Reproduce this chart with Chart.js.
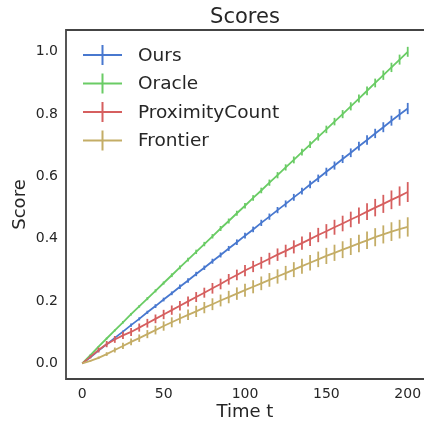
<!DOCTYPE html>
<html>
<head>
<meta charset="utf-8">
<script src="https://cdn.jsdelivr.net/npm/chart.js@4.4.0/dist/chart.umd.min.js"></script>
<style>
  html, body { margin: 0; padding: 0; background: #fff; }
  #wrap { width: 424px; height: 424px; }
</style>
</head>
<body>
<div id="wrap"><canvas id="scores"></canvas></div>
<script>
// time steps 0,5,...,200
const steps = [0, 5, 10, 15, 20, 25, 30, 35, 40, 45, 50, 55, 60, 65, 70, 75, 80, 85, 90, 95, 100,
  105, 110, 115, 120, 125, 130, 135, 140, 145, 150, 155, 160, 165, 170, 175, 180, 185, 190, 195, 200]

const ours = [0, 0.02, 0.041, 0.061, 0.082, 0.102, 0.123, 0.143, 0.164, 0.184, 0.205, 0.225, 0.246, 0.266,
  0.287, 0.307, 0.328, 0.348, 0.369, 0.389, 0.41, 0.43, 0.451, 0.471, 0.492, 0.512, 0.533, 0.553, 0.574,
  0.594, 0.615, 0.635, 0.656, 0.676, 0.697, 0.717, 0.738, 0.758, 0.779, 0.799, 0.818]
const oursErr = [0, 0.002, 0.003, 0.003, 0.004, 0.004, 0.005, 0.005, 0.005, 0.006, 0.006, 0.006, 0.007, 0.007,
  0.007, 0.007, 0.008, 0.008, 0.008, 0.009, 0.009, 0.009, 0.01, 0.01, 0.01, 0.011, 0.011, 0.011, 0.012,
  0.012, 0.013, 0.013, 0.013, 0.014, 0.014, 0.015, 0.015, 0.016, 0.016, 0.017, 0.018]

const oracle = [0, 0.027, 0.054, 0.08, 0.106, 0.132, 0.158, 0.183, 0.208, 0.233, 0.258, 0.283, 0.308, 0.333,
  0.358, 0.383, 0.408, 0.433, 0.457, 0.482, 0.506, 0.531, 0.555, 0.58, 0.604, 0.629, 0.653, 0.678, 0.702,
  0.727, 0.751, 0.776, 0.8, 0.825, 0.85, 0.875, 0.9, 0.925, 0.95, 0.975, 1.0]
const oracleErr = [0, 0.002, 0.002, 0.003, 0.003, 0.004, 0.004, 0.004, 0.005, 0.005, 0.005, 0.006, 0.006, 0.006,
  0.007, 0.007, 0.007, 0.008, 0.008, 0.008, 0.009, 0.009, 0.009, 0.01, 0.01, 0.01, 0.011, 0.011, 0.011,
  0.012, 0.012, 0.012, 0.013, 0.013, 0.013, 0.014, 0.014, 0.015, 0.015, 0.016, 0.016]

const proximity = [0, 0.021, 0.043, 0.062, 0.077, 0.09, 0.101, 0.115, 0.129, 0.143, 0.157, 0.171, 0.185, 0.199,
  0.213, 0.227, 0.241, 0.255, 0.27, 0.284, 0.298, 0.311, 0.323, 0.336, 0.349, 0.361, 0.374, 0.386, 0.399,
  0.412, 0.424, 0.437, 0.449, 0.462, 0.474, 0.487, 0.5, 0.512, 0.525, 0.537, 0.55]
const proximityErr = [0, 0.005, 0.008, 0.01, 0.011, 0.012, 0.013, 0.013, 0.014, 0.014, 0.015, 0.015, 0.015, 0.016,
  0.016, 0.016, 0.017, 0.017, 0.017, 0.017, 0.018, 0.018, 0.019, 0.019, 0.02, 0.02, 0.021, 0.021, 0.022,
  0.023, 0.023, 0.024, 0.025, 0.025, 0.026, 0.027, 0.028, 0.029, 0.03, 0.031, 0.032]

const frontier = [0, 0.008, 0.018, 0.03, 0.043, 0.056, 0.069, 0.081, 0.094, 0.107, 0.12, 0.132, 0.144, 0.156,
  0.167, 0.179, 0.19, 0.202, 0.213, 0.224, 0.235, 0.246, 0.257, 0.268, 0.279, 0.29, 0.301, 0.312, 0.323,
  0.334, 0.345, 0.355, 0.365, 0.375, 0.385, 0.395, 0.405, 0.414, 0.423, 0.431, 0.438]
const frontierErr = [0, 0.002, 0.004, 0.006, 0.008, 0.01, 0.011, 0.012, 0.013, 0.014, 0.015, 0.016, 0.016, 0.017,
  0.018, 0.018, 0.019, 0.019, 0.02, 0.02, 0.021, 0.021, 0.022, 0.022, 0.023, 0.023, 0.024, 0.024, 0.025,
  0.025, 0.026, 0.026, 0.027, 0.027, 0.028, 0.028, 0.029, 0.029, 0.03, 0.03, 0.031]

const xTicks = [0, 50, 100, 150, 200]
const yTicks = [0, 0.2, 0.4, 0.6, 0.8, 1.0]

const FONT = "'DejaVu Sans', sans-serif"
const INK = "#262626"

function series(label, values, errs, color, order) {
  return {
    label: label,
    data: steps.map((t, i) => ({ x: t, y: values[i] })),
    errors: errs,
    borderColor: color,
    backgroundColor: color,
    borderWidth: 1.8,
    pointRadius: 0,
    tension: 0,
    order: order
  }
}

// vertical error bars at every step
const errorBars = {
  id: "errorBars",
  afterDatasetsDraw(chart) {
    const { ctx, chartArea, scales } = chart
    ctx.save()
    ctx.beginPath()
    ctx.rect(chartArea.left, chartArea.top, chartArea.right - chartArea.left, chartArea.bottom - chartArea.top)
    ctx.clip()
    chart.data.datasets.forEach(ds => {
      ctx.strokeStyle = ds.borderColor
      ctx.lineWidth = 1.8
      ds.data.forEach((p, i) => {
        const e = ds.errors[i]
        if (!e) return
        const px = scales.x.getPixelForValue(p.x)
        ctx.beginPath()
        ctx.moveTo(px, scales.y.getPixelForValue(p.y - e))
        ctx.lineTo(px, scales.y.getPixelForValue(p.y + e))
        ctx.stroke()
      })
    })
    ctx.restore()
  }
}

// title, frame and legend in matplotlib style
const decor = {
  id: "decor",
  afterDraw(chart) {
    const { ctx, chartArea } = chart
    ctx.save()
    // axes frame; the right side falls off the figure edge
    ctx.strokeStyle = "#444"
    ctx.lineWidth = 1.8
    ctx.beginPath()
    ctx.moveTo(chart.width, chartArea.top)
    ctx.lineTo(chartArea.left, chartArea.top)
    ctx.lineTo(chartArea.left, chartArea.bottom)
    ctx.lineTo(chart.width, chartArea.bottom)
    ctx.stroke()

    ctx.fillStyle = INK
    ctx.font = "21px " + FONT
    ctx.textAlign = "center"
    ctx.textBaseline = "alphabetic"
    ctx.fillText("Scores", (chartArea.left + chart.width) / 2, 23)

    ctx.font = "18.5px " + FONT
    ctx.textAlign = "left"
    ctx.textBaseline = "middle"
    const legendOrder = ["Ours", "Oracle", "ProximityCount", "Frontier"]
    legendOrder.forEach((name, i) => {
      const ds = chart.data.datasets.find(d => d.label === name)
      const y = chartArea.top + 25 + i * 28.5
      ctx.strokeStyle = ds.borderColor
      ctx.lineWidth = 2
      ctx.beginPath()
      ctx.moveTo(83, y)
      ctx.lineTo(122, y)
      ctx.moveTo(102.5, y - 10)
      ctx.lineTo(102.5, y + 10)
      ctx.stroke()
      ctx.fillStyle = INK
      ctx.fillText(name, 138, y + 1)
    })
    ctx.restore()
  }
}

new Chart(document.getElementById("scores"), {
  type: "line",
  data: {
    datasets: [
      series("Ours", ours, oursErr, "#4878CF", 4),
      series("Oracle", oracle, oracleErr, "#6ACC65", 3),
      series("ProximityCount", proximity, proximityErr, "#D65F5F", 2),
      series("Frontier", frontier, frontierErr, "#C4AD66", 1)
    ]
  },
  options: {
    responsive: true,
    maintainAspectRatio: false,
    animation: false,
    layout: { padding: { top: 30, left: 0, right: 0, bottom: 0 } },
    plugins: {
      legend: { display: false },
      title: { display: false },
      tooltip: { enabled: false }
    },
    scales: {
      x: {
        type: "linear",
        min: -10,
        max: 210,
        afterBuildTicks: s => { s.ticks = xTicks.map(v => ({ value: v })) },
        afterFit: s => { s.height = 45; s.paddingLeft = 0; s.paddingRight = 0 },
        grid: { display: false, drawTicks: false },
        border: { display: false },
        ticks: { color: INK, font: { family: FONT, size: 14 }, padding: 7, maxRotation: 0 },
        title: { display: true, text: "Time t", color: INK, font: { family: FONT, size: 18 }, padding: { top: 2, bottom: 1 } }
      },
      y: {
        type: "linear",
        min: -0.05,
        max: 1.07,
        afterBuildTicks: s => { s.ticks = yTicks.map(v => ({ value: v })) },
        afterFit: s => { s.width = 66; s.paddingTop = 0; s.paddingBottom = 0 },
        grid: { display: false, drawTicks: false },
        border: { display: false },
        ticks: { color: INK, font: { family: FONT, size: 14 }, padding: 8, callback: v => v.toFixed(1) },
        title: { display: true, text: "Score", color: INK, font: { family: FONT, size: 18 }, padding: { top: 10, bottom: 0 } }
      }
    }
  },
  plugins: [errorBars, decor]
})
</script>
</body>
</html>
